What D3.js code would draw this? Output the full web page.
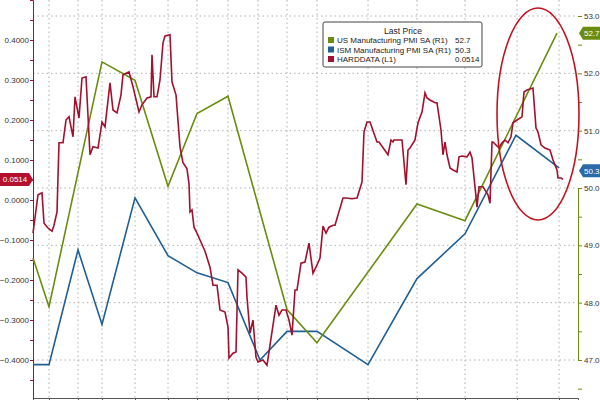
<!DOCTYPE html>
<html><head><meta charset="utf-8">
<script src="https://cdn.jsdelivr.net/npm/d3@7"></script>
<style>body{margin:0;background:#fff}svg{display:block}text{font-family:"Liberation Sans",Arial,sans-serif}</style>
</head><body><svg id="c" width="600" height="400"></svg>
<script>
// x values are days since start date
const startDate = "2023-05-24";
const spanDays = 545;
const leftTicks = [0.4,0.3,0.2,0.1,0,-0.1,-0.2,-0.3,-0.4];
const rightTicks = [53,52,51,50,49,48,47];
const gridDays = [16,45,69,102,135,164,195,225,254,284,335,384,432,484,526];
const usPmiDays = [0,16,69,102,135,164,195,254,284,384,432,524];
const usPmiVals = [48.78,47.93,52.2,51.88,50.03,51.3,51.6,47.88,47.3,49.72,49.43,52.7];
const ismDays = [0,16,45,69,102,135,164,195,227,254,284,335,384,432,483,526];
const ismVals = [46.92,46.92,48.92,47.62,49.83,48.82,48.52,48.35,47.0,47.5,47.5,46.92,48.42,49.2,50.92,50.35];
const hardDays = [0,3,5,9,11,15,19,21,24,26,30,33,36,40,42,46,49,53,57,60,65,69,72,77,80,84,88,90,96,100,106,109,114,118,119,121,124,127,130,132,137,139,143,147,150,154,156,157,159,161,164,167,172,177,180,184,187,192,195,196,200,203,205,209,213,214,217,220,223,225,230,234,243,246,249,253,256,259,262,264,268,272,276,280,283,287,290,293,296,300,302,310,313,319,324,329,331,334,337,344,346,355,358,360,361,365,369,373,375,377,382,385,389,392,394,397,402,404,408,410,412,414,417,420,424,426,429,434,437,439,442,444,446,450,455,457,459,460,466,469,472,475,478,480,484,489,491,494,500,503,505,508,512,517,520,524,525,528,530],
hardVals = [-0.083,-0.025,0.013,0.018,-0.058,-0.07,-0.078,-0.063,-0.03,0.143,0.143,0.2,0.208,0.158,0.258,0.205,0.305,0.308,0.113,0.133,0.13,0.195,0.183,0.293,0.225,0.218,0.263,0.313,0.32,0.283,0.22,0.238,0.255,0.258,0.363,0.258,0.258,0.3,0.393,0.41,0.413,0.295,0.263,0.133,0.093,0.078,0.04,-0.03,-0.025,-0.068,-0.083,-0.1,-0.128,-0.168,-0.213,-0.213,-0.275,-0.28,-0.318,-0.395,-0.383,-0.38,-0.175,-0.183,-0.193,-0.243,-0.333,-0.3,-0.393,-0.405,-0.4,-0.413,-0.263,-0.288,-0.275,-0.275,-0.3,-0.338,-0.225,-0.225,-0.158,-0.155,-0.108,-0.183,-0.168,-0.145,-0.065,-0.083,-0.068,-0.063,-0.063,0.005,0.005,0.003,0.005,0.045,0.17,0.195,0.195,0.145,0.145,0.113,0.15,0.145,0.15,0.15,0.15,0.038,0.125,0.13,0.15,0.193,0.22,0.268,0.255,0.25,0.243,0.243,0.175,0.113,0.145,0.113,0.08,0.075,0.07,0.108,0.11,0.108,0.12,0.105,0.033,-0.018,0.033,0.033,0.013,-0.008,0.145,0.145,0.13,0.143,0.15,0.143,0.158,0.193,0.2,0.208,0.27,0.275,0.28,0.18,0.17,0.138,0.13,0.125,0.1,0.075,0.055,0.055,0.0514];
const legendTitle = "Last Price";
const legendNames = ["US Manufacturing PMI SA  (R1)","ISM Manufacturing PMI SA  (R1)","HARDDATA  (L1)"];
const legendVals = ["52.7","50.3","0.0514"];

const GREEN="#6a8c0f", BLUE="#1f5f93", RED="#a3102e";
const svg=d3.select("#c");
const t0=d3.isoParse(startDate);
const day=d=>d3.timeDay.offset(t0,d);
const x=d3.scaleTime().domain([t0,day(spanDays)]).range([33,578]);
const yL=d3.scaleLinear().domain([-0.5,0.5]).range([400,0]);
const yR=d3.scaleLinear().domain([47,50]).range([360,188]);

const g=svg.append("g").attr("stroke","#b0b0b0").attr("stroke-dasharray","1.5,3").attr("stroke-width",1);
rightTicks.forEach(v=>g.append("line").attr("x1",33).attr("x2",578).attr("y1",yR(v)).attr("y2",yR(v)));
gridDays.forEach(d=>g.append("line").attr("x1",x(day(d))).attr("x2",x(day(d))).attr("y1",0).attr("y2",398));

const la=svg.append("g").attr("transform","translate(33,0)").call(d3.axisLeft(yL).tickValues(d3.range(-0.45,0.46,0.05)).tickSize(3).tickFormat(""));
la.selectAll("path,line").attr("stroke",RED);
leftTicks.forEach(v=>svg.append("text").attr("x",29).attr("y",yL(v)+3).attr("text-anchor","end").attr("font-size",8).attr("fill","#333").text(d3.format(".4f")(v)));
const ra=svg.append("g").attr("transform","translate(578,0)").call(d3.axisRight(yR).tickValues(d3.range(46.5,53.6,0.5)).tickSize(4).tickFormat(""));
ra.selectAll("path,line").attr("stroke",GREEN);
rightTicks.forEach(v=>svg.append("text").attr("x",584).attr("y",yR(v)+3).attr("font-size",8).attr("fill","#333").text(v.toFixed(1)));
const ba=svg.append("g").attr("transform","translate(0,398)").call(d3.axisBottom(x).tickValues(gridDays.map(day)).tickSize(3).tickFormat(""));
ba.selectAll("path,line").attr("stroke","#555");

const lineR=d3.line().x(d=>x(day(d[0]))).y(d=>yR(d[1]));
const lineL=d3.line().x(d=>x(day(d[0]))).y(d=>yL(d[1]));
svg.append("path").attr("d",lineR(d3.zip(ismDays,ismVals))).attr("fill","none").attr("stroke",BLUE).attr("stroke-width",1.6);
svg.append("path").attr("d",lineR(d3.zip(usPmiDays,usPmiVals))).attr("fill","none").attr("stroke",GREEN).attr("stroke-width",1.6);
svg.append("path").attr("d",lineL(d3.zip(hardDays,hardVals))).attr("fill","none").attr("stroke",RED).attr("stroke-width",1.6);

svg.append("ellipse").attr("cx",538).attr("cy",114).attr("rx",41).attr("ry",106).attr("fill","none").attr("stroke","#c0141e").attr("stroke-width",1.6);

function tag(xx,y,txt,col,left){
  const w=33;
  const gg=svg.append("g");
  if(left) gg.append("path").attr("d",`M0,${y-6.5}H${w-4}L${w},${y}L${w-4},${y+6.5}H0Z`).attr("fill",col);
  else gg.append("path").attr("d",`M${xx},${y}L${xx+4},${y-6.5}H600V${y+6.5}H${xx+4}Z`).attr("fill",col);
  gg.append("text").attr("x",left?15:xx+5).attr("y",y+3).attr("text-anchor",left?"middle":"start").attr("font-size",8).attr("fill","#fff").text(txt);
}
tag(0,yL(+legendVals[2]),legendVals[2],"#b5102e",true);
tag(579,yR(+legendVals[0]),legendVals[0],GREEN,false);
tag(579,yR(+legendVals[1]),legendVals[1],"#2a6aa8",false);

const lg=svg.append("g").attr("transform","translate(323,22)");
lg.append("rect").attr("width",159).attr("height",45).attr("rx",2).attr("fill","#fff").attr("stroke","#444");
lg.append("text").attr("x",80).attr("y",12).attr("text-anchor","middle").attr("font-size",8.5).attr("fill","#222").text(legendTitle);
[GREEN,BLUE,RED].forEach((c,i)=>{
  const yy=21+i*9.5;
  lg.append("rect").attr("x",5).attr("y",yy-6).attr("width",6).attr("height",6).attr("fill",c);
  lg.append("text").attr("x",14).attr("y",yy).attr("font-size",8).attr("fill","#222").text(legendNames[i]);
  lg.append("text").attr("x",132).attr("y",yy).attr("font-size",8).attr("fill","#222").text(legendVals[i]);
});
</script></body></html>
